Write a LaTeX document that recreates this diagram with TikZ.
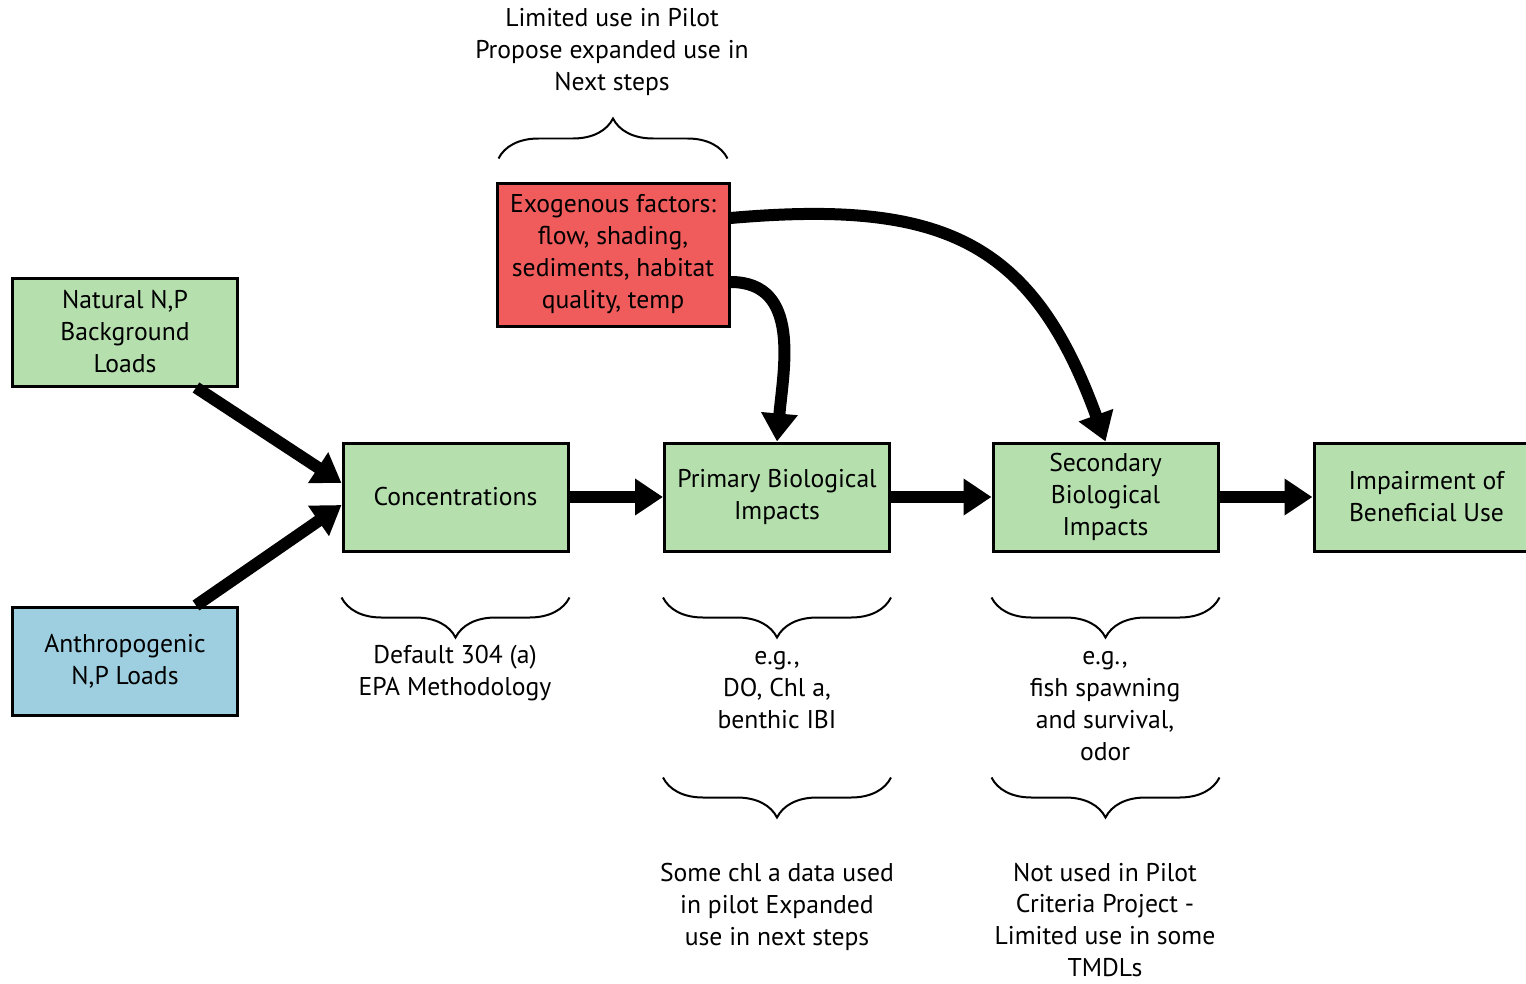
\documentclass[tikz,border=0pt]{standalone}
\usepackage{fontspec}
\setmainfont{PT Sans}
\usetikzlibrary{arrows.meta,decorations.pathreplacing}
\definecolor{boxgreen}{RGB}{181,224,174}
\definecolor{boxblue}{RGB}{158,207,224}
\definecolor{boxred}{RGB}{240,92,92}
\begin{document}
\begin{tikzpicture}[
  box/.style={draw=black,line width=0.06cm,minimum width=4.5cm,minimum height=2.16cm,align=center,font=\fontsize{14.6}{18.2}\selectfont},
  note/.style={align=center,font=\fontsize{14.6}{18.2}\selectfont},
  flow/.style={line width=0.24cm,-{Triangle[length=0.56cm,width=0.7cm]}},
  brace/.style={decorate,decoration={brace,amplitude=0.8cm},line width=0.04cm}]
\useasboundingbox (0,0) rectangle (30.52,-19.66);
% boxes
\node[box,fill=boxgreen] (nat) at (2.5,-6.64) {Natural N,P\\Background\\Loads};
\node[box,fill=boxblue] (anth) at (2.5,-13.22) {Anthropogenic\\N,P Loads};
\node[box,fill=boxgreen] (conc) at (9.11,-9.94) {Concentrations};
\node[box,fill=boxgreen] (prim) at (15.54,-9.94) {Primary Biological\\Impacts};
\node[box,fill=boxgreen] (sec) at (22.11,-9.94) {Secondary\\Biological\\Impacts};
\node[box,fill=boxgreen] (imp) at (28.53,-9.94) {Impairment of\\Beneficial Use};
\node[box,fill=boxred,minimum width=4.64cm,minimum height=2.86cm] (exo) at (12.26,-5.09) {Exogenous factors:\\flow, shading,\\sediments, habitat\\quality, temp};
% arrows
\draw[flow] ([xshift=-0.86cm]nat.south east) -- ([yshift=0.28cm]conc.west);
\draw[flow] ([xshift=-0.86cm]anth.north east) -- ([yshift=-0.16cm]conc.west);
\draw[flow] (conc) -- (prim);
\draw[flow] (prim) -- (sec);
\draw[flow] (sec) -- (imp);
\draw[flow] ([yshift=-0.55cm]exo.east) to[out=0,in=85,looseness=1.1] (prim.north);
\draw[flow] ([yshift=0.73cm]exo.east) to[out=5,in=110,looseness=1.25] (sec.north);
% braces
\draw[brace] ([xshift=0.06cm,yshift=0.46cm]exo.north west) -- ([xshift=-0.06cm,yshift=0.46cm]exo.north east);
\draw[brace] ([yshift=-0.9cm]conc.south east) -- ([yshift=-0.9cm]conc.south west);
\draw[brace] ([yshift=-0.9cm]prim.south east) -- ([yshift=-0.9cm]prim.south west);
\draw[brace] ([yshift=-0.9cm]sec.south east) -- ([yshift=-0.9cm]sec.south west);
\draw[brace] ([yshift=-4.5cm]prim.south east) -- ([yshift=-4.5cm]prim.south west);
\draw[brace] ([yshift=-4.5cm]sec.south east) -- ([yshift=-4.5cm]sec.south west);
% notes
\node[note] (top) at (12.24,-1.04) {Limited use in Pilot\\Propose expanded use in\\Next steps};
\node[note] (dflt) at (9.1,-13.46) {Default 304 (a)\\EPA Methodology};
\node[note] (egp) at (15.54,-13.8) {e.g.,\\DO, Chl a,\\benthic IBI};
\node[note] (egs) at (22.1,-14.12) {e.g.,\\fish spawning\\and survival,\\odor};
\node[note] (chl) at (15.54,-18.14) {Some chl a data used\\in pilot Expanded\\use in next steps};
\node[note] (pilot) at (22.1,-18.4) {Not used in Pilot\\Criteria Project -\\Limited use in some\\TMDLs};
\end{tikzpicture}
\end{document}
